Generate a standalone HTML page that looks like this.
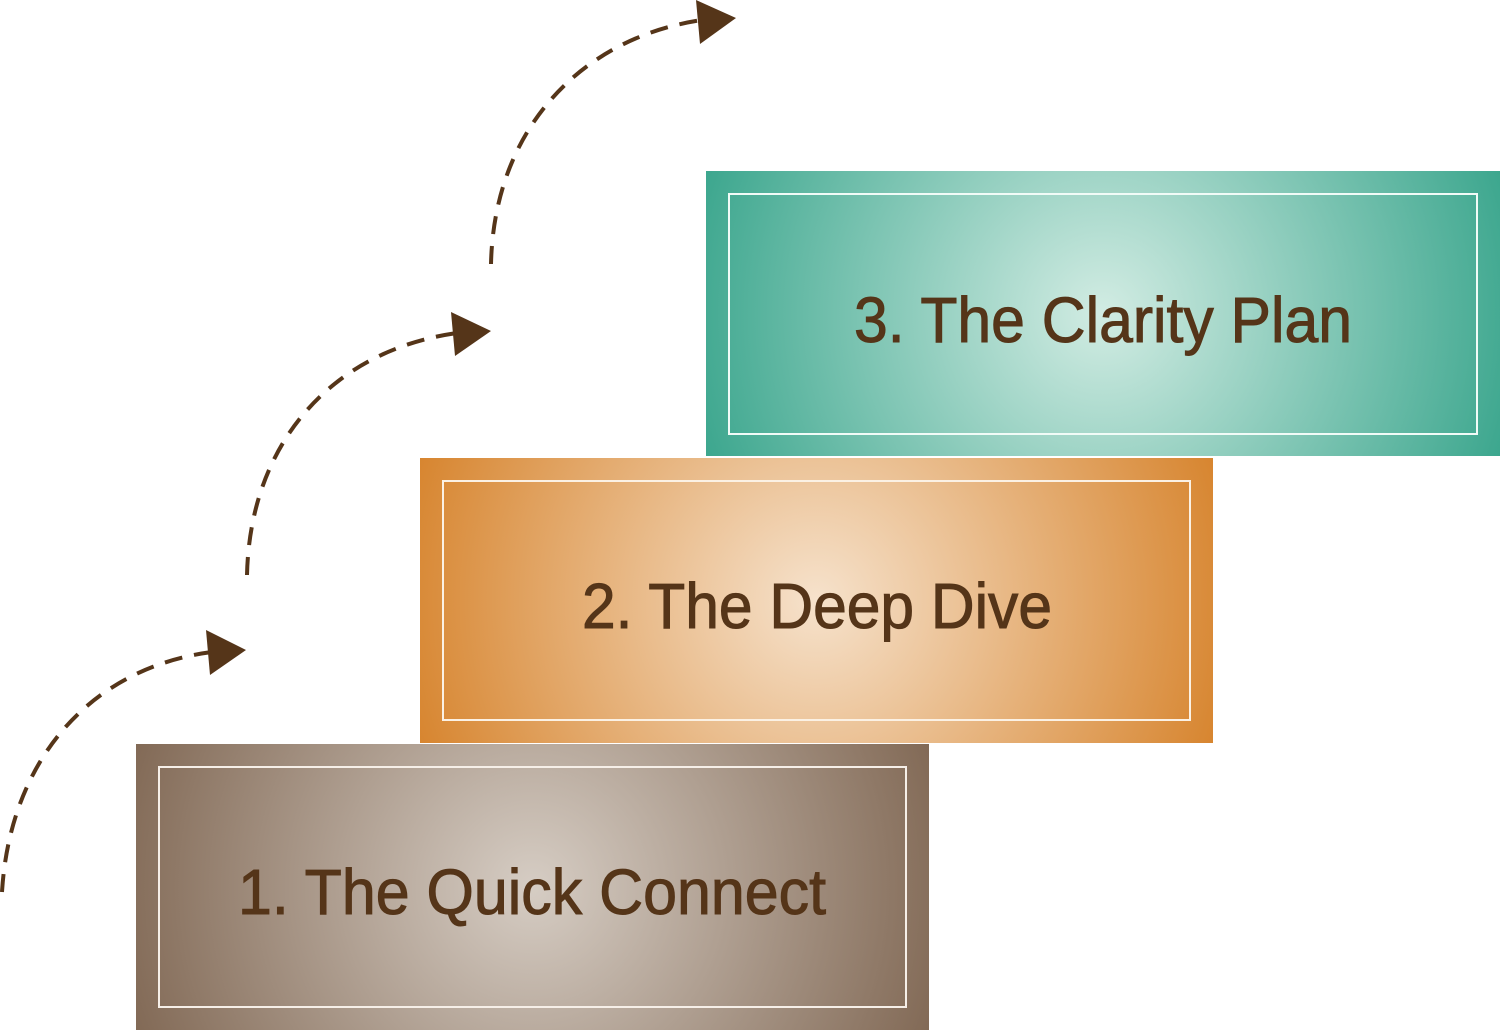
<!DOCTYPE html>
<html><head><meta charset="utf-8"><style>html,body{margin:0;padding:0;background:#fff;width:1500px;height:1030px;overflow:hidden}</style></head>
<body>
<svg width="1500" height="1030" viewBox="0 0 1500 1030" xmlns="http://www.w3.org/2000/svg">
<defs>
<radialGradient id="g1" cx="0.5" cy="0.5" r="0.55" gradientTransform="translate(0.5 0.5) scale(1 2.78) translate(-0.5 -0.5)">
<stop offset="0" stop-color="#d6cdc4"/><stop offset="1" stop-color="#7f6652"/></radialGradient>
<radialGradient id="g2" cx="0.5" cy="0.5" r="0.55" gradientTransform="translate(0.5 0.5) scale(1 2.78) translate(-0.5 -0.5)">
<stop offset="0" stop-color="#f6e2cc"/><stop offset="1" stop-color="#d6822a"/></radialGradient>
<radialGradient id="g3" cx="0.5" cy="0.5" r="0.55" gradientTransform="translate(0.5 0.5) scale(1 2.78) translate(-0.5 -0.5)">
<stop offset="0" stop-color="#d2ece3"/><stop offset="1" stop-color="#37a48b"/></radialGradient>
</defs>
<g fill="none" stroke="#553519" stroke-width="4" stroke-dasharray="18 12">
<path d="M2,892 C10,760 90,668 212,652"/>
<path d="M247,575 C250,440 335,350 457,333"/>
<path d="M491,264 C494,130 580,38 702,20"/>
</g>
<g fill="#553519">
<polygon points="206,630 246,650 210,675"/>
<polygon points="451,312 491,331 455,356"/>
<polygon points="696,0 736,18 700,44"/>
</g>
<rect x="136" y="744" width="793" height="286" fill="url(#g1)"/>
<rect x="159" y="767" width="747" height="240" fill="none" stroke="#f6efe8" stroke-width="2"/>
<rect x="420" y="458" width="793" height="285" fill="url(#g2)"/>
<rect x="443" y="481" width="747" height="239" fill="none" stroke="#fbf1e4" stroke-width="2"/>
<rect x="706" y="171" width="794" height="285" fill="url(#g3)"/>
<rect x="729" y="194" width="748" height="240" fill="none" stroke="#f1fbf7" stroke-width="2"/>
<g font-family="Liberation Sans, sans-serif" font-size="64" fill="#553519" stroke="#553519" stroke-width="1">
<text x="238" y="914" textLength="588" lengthAdjust="spacingAndGlyphs">1. The Quick Connect</text>
<text x="582" y="628" textLength="470" lengthAdjust="spacingAndGlyphs">2. The Deep Dive</text>
<text x="854" y="342" textLength="498" lengthAdjust="spacingAndGlyphs">3. The Clarity Plan</text>
</g>
</svg>
</body></html>
